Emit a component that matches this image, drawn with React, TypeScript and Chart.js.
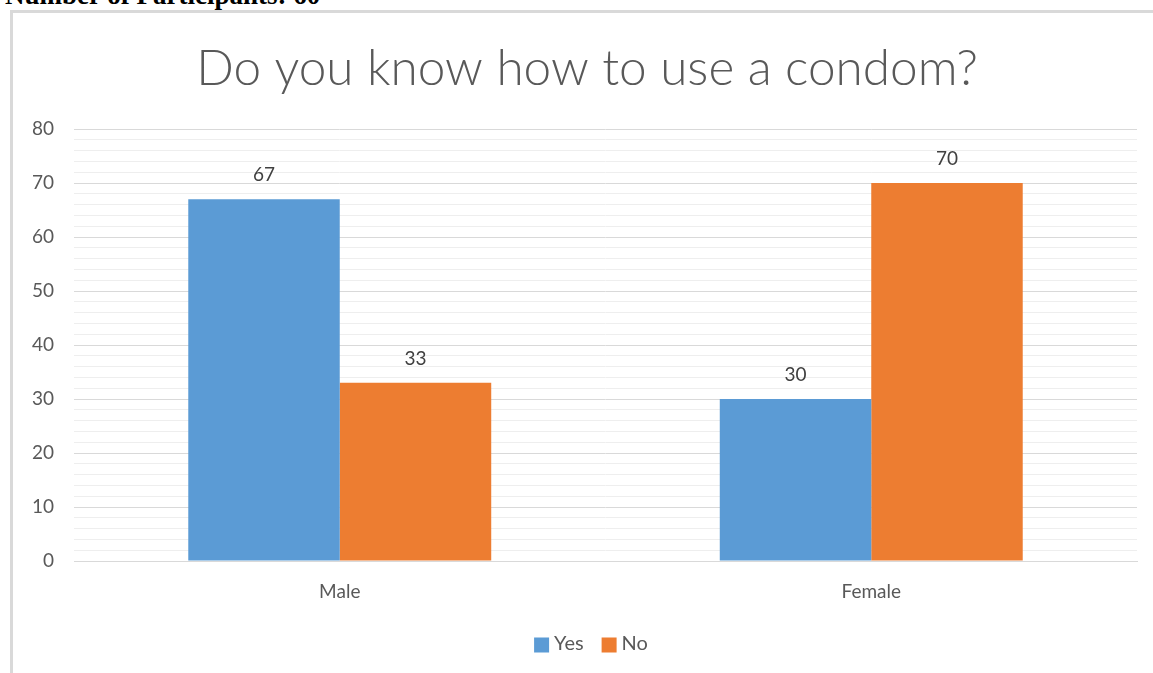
import React, { useEffect, useRef } from "react";
import { Chart, registerables } from "chart.js";

Chart.register(...registerables);

const categories = ["Male", "Female"];
const yesValues = [67, 30];
const noValues = [33, 70];
const seriesNames = ["Yes", "No"];
const seriesColors = ["#5B9BD5", "#ED7D31"];
const titleText = "Do you know how to use a condom?";
const headerText = "Number of Participants: 60";

const FONT = "Lato, Carlito, 'Open Sans', sans-serif";
const TEXT_COLOR = "#595959";

// Chart heading, centred over the whole frame
const headingTitle = {
  id: "headingTitle",
  afterDraw(chart: any) {
    const { ctx } = chart;
    ctx.save();
    ctx.font = `300 49.5px ${FONT}`;
    ctx.fillStyle = TEXT_COLOR;
    ctx.textAlign = "center";
    ctx.textBaseline = "middle";
    ctx.fillText(titleText, 574, 56);
    ctx.restore();
  },
};

// Value labels above each bar
const valueLabels = {
  id: "valueLabels",
  afterDatasetsDraw(chart: any) {
    const { ctx } = chart;
    ctx.save();
    ctx.font = `19px ${FONT}`;
    ctx.fillStyle = "#404040";
    ctx.textAlign = "center";
    ctx.textBaseline = "alphabetic";
    chart.data.datasets.forEach((ds: any, i: number) => {
      const meta = chart.getDatasetMeta(i);
      meta.data.forEach((el: any, j: number) => {
        ctx.fillText(String(ds.data[j]), el.x, el.y - 18);
      });
    });
    ctx.restore();
  },
};

// Compact legend row at the bottom of the canvas
const bottomLegend = {
  id: "bottomLegend",
  afterDraw(chart: any) {
    const { ctx } = chart;
    const box = 15;
    const textGap = 5;
    const itemGap = 18;
    const centerX = 578;
    const centerY = 631;
    ctx.save();
    ctx.font = `20px ${FONT}`;
    ctx.textBaseline = "middle";
    ctx.textAlign = "left";
    const items = chart.data.datasets.map((ds: any) => ({
      label: ds.label,
      color: ds.backgroundColor,
      w: ctx.measureText(ds.label).width,
    }));
    const total =
      items.reduce((s: number, it: any) => s + box + textGap + it.w, 0) +
      itemGap * (items.length - 1);
    let x = centerX - total / 2;
    items.forEach((it: any) => {
      ctx.fillStyle = it.color;
      ctx.fillRect(x, centerY - box / 2 + 1, box, box);
      x += box + textGap;
      ctx.fillStyle = TEXT_COLOR;
      ctx.fillText(it.label, x, centerY);
      x += it.w + itemGap;
    });
    ctx.restore();
  },
};

export default function App() {
  const canvasRef = useRef<HTMLCanvasElement | null>(null);

  useEffect(() => {
    if (!canvasRef.current) return;
    const chart = new Chart(canvasRef.current, {
      type: "bar",
      data: {
        labels: categories,
        datasets: [
          {
            label: seriesNames[0],
            data: yesValues,
            backgroundColor: seriesColors[0],
            categoryPercentage: 0.57,
            barPercentage: 1.0,
          },
          {
            label: seriesNames[1],
            data: noValues,
            backgroundColor: seriesColors[1],
            categoryPercentage: 0.57,
            barPercentage: 1.0,
          },
        ],
      },
      options: {
        animation: false,
        responsive: true,
        maintainAspectRatio: false,
        layout: { padding: { top: 116, right: 16, bottom: 47, left: 0 } },
        plugins: {
          title: { display: false },
          legend: { display: false },
          tooltip: { enabled: false },
        },
        scales: {
          x: {
            grid: { display: false, drawTicks: false },
            border: { display: true, color: "#d9d9d9" },
            ticks: { color: TEXT_COLOR, font: { family: FONT, size: 19 }, padding: 19 },
            afterFit: (scale: any) => {
              scale.height = 65;
            },
          },
          y: {
            min: 0,
            max: 80,
            border: { display: false },
            grid: {
              drawTicks: false,
              lineWidth: 1,
              color: (c: any) =>
                c.tick && c.tick.value % 10 === 0 ? "#d9d9d9" : "#eeeeee",
            },
            ticks: {
              stepSize: 2,
              autoSkip: false,
              color: TEXT_COLOR,
              font: { family: FONT, size: 19 },
              padding: 20,
              callback: (v: any) => (Number(v) % 10 === 0 ? String(v) : ""),
            },
            afterFit: (scale: any) => {
              scale.width = 61;
            },
          },
        },
      },
      plugins: [headingTitle, valueLabels, bottomLegend],
    });
    return () => chart.destroy();
  }, []);

  return (
    <div
      style={{
        position: "absolute",
        left: 0,
        top: 0,
        width: 1153,
        height: 673,
        overflow: "hidden",
        background: "#ffffff",
      }}
    >
      <div
        style={{
          position: "absolute",
          left: 5,
          top: -18,
          font: "bold 27px 'Liberation Serif', 'Times New Roman', serif",
          lineHeight: "27px",
          whiteSpace: "nowrap",
          color: "#000",
        }}
      >
        {headerText}
      </div>
      <div
        style={{
          position: "absolute",
          left: 10,
          top: 10,
          width: 1170,
          height: 690,
          border: "3px solid #d9d9d9",
          boxSizing: "border-box",
        }}
      />
      <div style={{ position: "absolute", left: 13, top: 13, width: 1140, height: 660 }}>
        <canvas ref={canvasRef} />
      </div>
    </div>
  );
}
